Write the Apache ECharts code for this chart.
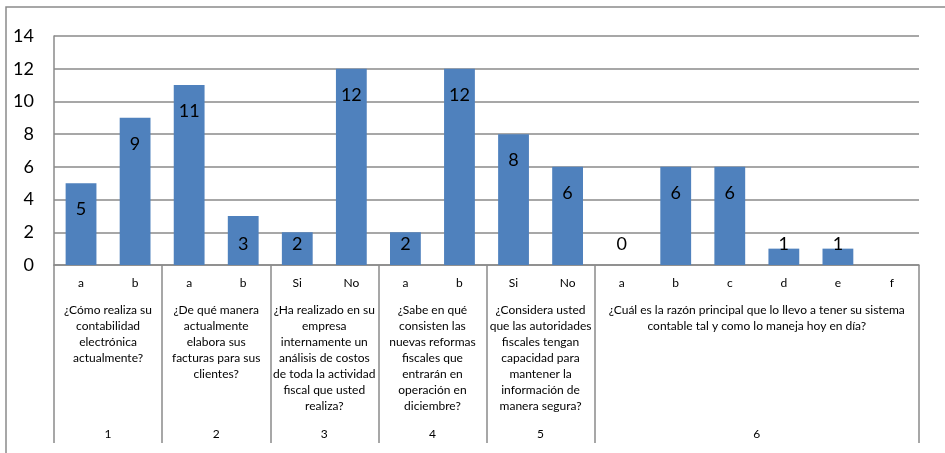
<!DOCTYPE html>
<html>
<head>
<meta charset="utf-8">
<script src="https://cdn.jsdelivr.net/npm/echarts@6/dist/echarts.min.js"></script>
<style>
html,body{margin:0;padding:0;background:#fff;}
#chart{width:945px;height:453px;}
</style>
</head>
<body>
<div id="chart"></div>
<script>
// ---- data ----
const categories = ['a','b','a','b','Si','No','a','b','Si','No','a','b','c','d','e','f'];
const values = [5, 9, 11, 3, 2, 12, 2, 12, 8, 6, 0, 6, 6, 1, 1, null];
const groupSizes = [2, 2, 2, 2, 2, 6];
const questions = [
  '¿Cómo realiza su\ncontabilidad\nelectrónica\nactualmente?',
  '¿De qué manera\nactualmente\nelabora sus\nfacturas para sus\nclientes?',
  '¿Ha realizado en su\nempresa\ninternamente un\nanálisis de costos\nde toda la actividad\nfiscal que usted\nrealiza?',
  '¿Sabe en qué\nconsisten las\nnuevas reformas\nfiscales que\nentrarán en\noperación en\ndiciembre?',
  '¿Considera usted\nque las autoridades\nfiscales tengan\ncapacidad para\nmantener la\ninformación de\nmanera segura?',
  '¿Cuál es la razón principal que lo llevo a tener su sistema\ncontable tal y como lo maneja hoy en día?'
];
const groupNumbers = ['1','2','3','4','5','6'];
const yMin = 0, yMax = 14, yInterval = 2;

// ---- build helper axis data (positions on category boundaries) ----
const total = categories.length;
const boundaries = [0];
groupSizes.forEach(s => boundaries.push(boundaries[boundaries.length-1] + s));
const qData = new Array(total + 1).fill('');
const nData = new Array(total + 1).fill('');
groupSizes.forEach((s, i) => {
  const c = boundaries[i] + s / 2;
  qData[c] = questions[i];
  nData[c] = groupNumbers[i];
});

const FONT = 'Lato, "Open Sans", sans-serif';
const GRAY = '#8a8a8a';

const chart = echarts.init(document.getElementById('chart'), null, {renderer: 'canvas'});
chart.setOption({
  animation: false,
  backgroundColor: '#fff',
  textStyle: {fontFamily: FONT},
  graphic: [{
    type: 'rect', silent: true,
    shape: {x: 6, y: 7, width: 960, height: 470},
    style: {fill: 'none', stroke: GRAY, lineWidth: 1.5}
  }],
  grid: {left: 54, right: 26, top: 36, bottom: 188, containLabel: false},
  xAxis: [
    {
      type: 'category', data: categories, position: 'bottom',
      axisLine: {show: true, lineStyle: {color: GRAY, width: 1.5}},
      axisTick: {show: false},
      axisLabel: {interval: 0, margin: 12, fontSize: 12, color: '#000', fontFamily: FONT},
      splitLine: {show: false}
    },
    {
      type: 'category', data: qData, boundaryGap: false, position: 'bottom',
      axisLine: {show: false},
      axisTick: {show: true, length: 178, interval: (idx) => boundaries.includes(idx),
                 lineStyle: {color: GRAY, width: 1.5}},
      axisLabel: {interval: 0, margin: 37, fontSize: 12, lineHeight: 16, color: '#000',
                  align: 'center', fontFamily: FONT},
      splitLine: {show: false}
    },
    {
      type: 'category', data: nData, boundaryGap: false, position: 'bottom',
      axisLine: {show: false},
      axisTick: {show: false},
      axisLabel: {interval: 0, margin: 163, fontSize: 12, color: '#000', fontFamily: FONT},
      splitLine: {show: false}
    }
  ],
  yAxis: {
    type: 'value', min: yMin, max: yMax, interval: yInterval,
    axisLine: {show: true, lineStyle: {color: GRAY, width: 1.5}},
    axisTick: {show: false},
    axisLabel: {fontSize: 18, color: '#000', margin: 20, fontFamily: FONT},
    splitLine: {show: true, lineStyle: {color: GRAY, width: 1.5}}
  },
  series: [{
    type: 'bar',
    xAxisIndex: 0, yAxisIndex: 0,
    barWidth: '57%',
    itemStyle: {color: '#4F81BD'},
    label: {show: true, position: 'insideTop', distance: 17, fontSize: 18, color: '#000', fontFamily: FONT},
    data: values.map(v => (v !== null && v <= 3)
      ? {value: v, label: {position: 'insideBottom', distance: 12}}
      : v)
  }]
});
</script>
</body>
</html>
